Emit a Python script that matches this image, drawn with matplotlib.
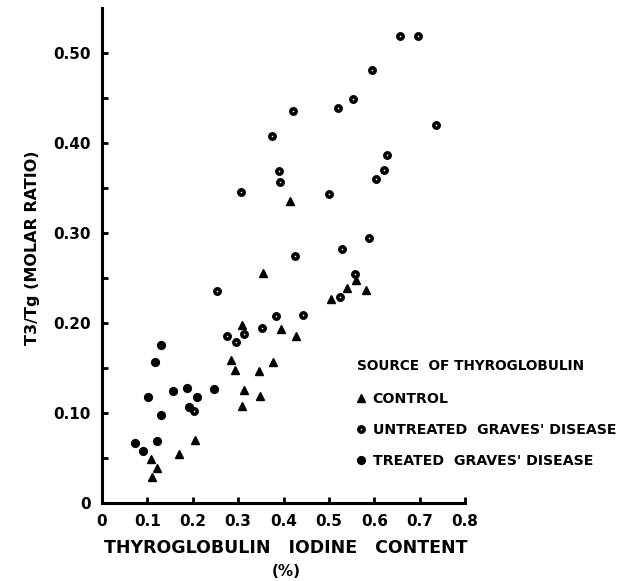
import matplotlib
matplotlib.use("Agg")
import matplotlib.pyplot as plt

# Control (triangles)
control_x = [0.414, 0.355, 0.560, 0.541, 0.582, 0.505, 0.308, 0.394, 0.427,
             0.285, 0.294, 0.346, 0.376, 0.314, 0.348, 0.308, 0.206, 0.170,
             0.109, 0.122, 0.111]
control_y = [0.336, 0.256, 0.248, 0.239, 0.237, 0.227, 0.198, 0.193, 0.186,
             0.159, 0.148, 0.147, 0.157, 0.126, 0.119, 0.108, 0.070, 0.055,
             0.049, 0.039, 0.029]

# Untreated Graves' disease (open circles)
untreated_x = [0.657, 0.697, 0.595, 0.553, 0.521, 0.735, 0.627, 0.621, 0.603,
               0.500, 0.589, 0.422, 0.375, 0.390, 0.392, 0.306, 0.530, 0.426,
               0.557, 0.525, 0.384, 0.444, 0.353, 0.275, 0.295, 0.314, 0.253,
               0.203]
untreated_y = [0.519, 0.519, 0.481, 0.449, 0.439, 0.420, 0.387, 0.370, 0.360,
               0.343, 0.295, 0.436, 0.408, 0.369, 0.357, 0.346, 0.282, 0.274,
               0.255, 0.229, 0.208, 0.209, 0.195, 0.186, 0.179, 0.188, 0.236,
               0.102]

# Treated Graves' disease (filled circles)
treated_x = [0.131, 0.117, 0.102, 0.157, 0.187, 0.209, 0.247, 0.191, 0.129,
             0.072, 0.090, 0.121]
treated_y = [0.176, 0.157, 0.118, 0.124, 0.128, 0.118, 0.127, 0.107, 0.098,
             0.067, 0.058, 0.069]

x_ticks = [0, 0.1, 0.2, 0.3, 0.4, 0.5, 0.6, 0.7, 0.8]
x_tick_labels = ["0", "0.1", "0.2", "0.3", "0.4", "0.5", "0.6", "0.7", "0.8"]
y_ticks = [0, 0.05, 0.10, 0.15, 0.20, 0.25, 0.30, 0.35, 0.40, 0.45, 0.50]
y_tick_labels = ["0", "", "0.10", "", "0.20", "", "0.30", "", "0.40", "", "0.50"]

plt.rcParams['font.family'] = ['DejaVu Sans']
plt.rcParams['font.weight'] = 'bold'

W, H = 636, 581
fig = plt.figure(figsize=(W / 100, H / 100), dpi=100)
ax = fig.add_axes([102 / W, 78 / H, 363 / W, 495 / H])

ax.plot(control_x, control_y, linestyle='none', marker='^', markersize=6.2,
        color='black', label='CONTROL')
ax.plot(untreated_x, untreated_y, linestyle='none', marker='o', markersize=3.8,
        markerfacecolor='white', markeredgecolor='black', markeredgewidth=2.6,
        label="UNTREATED  GRAVES' DISEASE")
ax.plot(treated_x, treated_y, linestyle='none', marker='o', markersize=5.6,
        color='black', label="TREATED  GRAVES' DISEASE")

ax.set_xlim(0, 0.8)
ax.set_ylim(0, 0.55)
for s in ['top', 'right']:
    ax.spines[s].set_visible(False)
for s in ['left', 'bottom']:
    ax.spines[s].set_linewidth(2.2)

ax.set_xticks(x_ticks)
ax.set_xticklabels(x_tick_labels, fontsize=11, fontweight='bold')
ax.set_yticks(y_ticks)
ax.set_yticklabels(y_tick_labels, fontsize=11, fontweight='bold')
ax.tick_params(direction='in', length=4, width=2, pad=8)

fig.text(286 / W, 1 - 548 / H, "THYROGLOBULIN   IODINE   CONTENT",
         fontsize=12.5, fontweight='bold', ha='center', va='center')
fig.text(286 / W, 1 - 571 / H, "(%)", fontsize=11, fontweight='bold',
         ha='center', va='center')
ax.set_ylabel("T3/Tg (MOLAR RATIO)", fontsize=11.5, fontweight='bold')
ax.yaxis.set_label_coords(-62 / 363, 255 / 495)

leg = ax.legend(loc='upper left', bbox_to_anchor=(357 / W, 1 - 359 / H),
                bbox_transform=fig.transFigure, frameon=False,
                title="SOURCE  OF THYROGLOBULIN", alignment='left',
                prop={'size': 10.2, 'weight': 'bold'},
                title_fontproperties={'size': 9.8, 'weight': 'bold'},
                handlelength=0.5, handletextpad=0.6, labelspacing=1.2,
                borderpad=0, borderaxespad=0)
leg._legend_box.sep = 14

fig.savefig("out.png", dpi=100)
